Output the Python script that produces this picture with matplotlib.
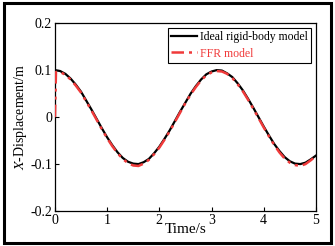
import matplotlib
matplotlib.use("Agg")
import matplotlib.pyplot as plt
from matplotlib.patches import Rectangle

plt.rcParams['font.family'] = ['Liberation Serif', 'DejaVu Serif']
plt.rcParams['mathtext.fontset'] = 'stix'

t_rigid = [0.0, 0.1, 0.2, 0.3, 0.4, 0.5, 0.6, 0.7, 0.8, 0.9,
           1.0, 1.1, 1.2, 1.3, 1.4, 1.5, 1.6, 1.7, 1.8, 1.9,
           2.0, 2.1, 2.2, 2.3, 2.4, 2.5, 2.6, 2.7, 2.8, 2.9,
           3.0, 3.1, 3.2, 3.3, 3.4, 3.5, 3.6, 3.7, 3.8, 3.9,
           4.0, 4.1, 4.2, 4.3, 4.4, 4.5, 4.6, 4.7, 4.8, 4.9, 5.0]
x_rigid = [0.100, 0.098, 0.092, 0.082, 0.069, 0.054, 0.035, 0.016, -0.004, -0.024,
           -0.043, -0.060, -0.075, -0.087, -0.095, -0.099, -0.100, -0.096, -0.089, -0.077,
           -0.063, -0.046, -0.028, -0.008, 0.012, 0.031, 0.050, 0.066, 0.080, 0.091,
           0.097, 0.100, 0.099, 0.093, 0.085, 0.072, 0.057, 0.039, 0.020, 0.000,
           -0.020, -0.039, -0.057, -0.072, -0.085, -0.094, -0.099, -0.100, -0.097, -0.090, -0.082]

t_ffr = [0.0, 0.02, 0.1, 0.2, 0.3, 0.4, 0.5, 0.6, 0.7, 0.8, 0.9,
         1.0, 1.1, 1.2, 1.3, 1.4, 1.5, 1.6, 1.7, 1.8, 1.9,
         2.0, 2.1, 2.2, 2.3, 2.4, 2.5, 2.6, 2.7, 2.8, 2.9,
         3.0, 3.1, 3.2, 3.3, 3.4, 3.5, 3.6, 3.7, 3.8, 3.9,
         4.0, 4.1, 4.2, 4.3, 4.4, 4.5, 4.6, 4.7, 4.8, 4.9, 5.0]
x_ffr = [0.000, 0.096, 0.096, 0.090, 0.080, 0.067, 0.052, 0.033, 0.014, -0.006, -0.026,
         -0.045, -0.062, -0.077, -0.089, -0.098, -0.103, -0.104, -0.099, -0.091, -0.079,
         -0.065, -0.048, -0.030, -0.010, 0.010, 0.030, 0.048, 0.064, 0.078, 0.089,
         0.095, 0.098, 0.097, 0.092, 0.083, 0.070, 0.055, 0.037, 0.018, -0.002,
         -0.022, -0.041, -0.059, -0.075, -0.088, -0.097, -0.102, -0.104, -0.100, -0.092, -0.083]

xticks = [0, 1, 2, 3, 4, 5]
yticks = [-0.2, -0.1, 0, 0.1, 0.2]
ytick_labels = ['-0.2', '-0.1', '0', '0.1', '0.2']

fig = plt.figure(figsize=(3.35, 2.46), dpi=100)
ax = fig.add_axes([0.164, 0.142, 0.779, 0.764])

ax.plot(t_rigid, x_rigid, color='black', lw=1.6, label='Ideal rigid-body model', zorder=2)
ax.plot(t_ffr, x_ffr, color='#f03a3a', lw=1.8, dashes=(5, 2, 1.2, 2, 1.2, 2),
        label='FFR model', zorder=3)

ax.set_xlim(0, 5)
ax.set_ylim(-0.2, 0.2)
ax.set_xticks(xticks)
ax.set_yticks(yticks)
ax.set_yticklabels(ytick_labels)
ax.tick_params(direction='in', length=3, width=0.8, labelsize=10, pad=2)
for s in ax.spines.values():
    s.set_linewidth(0.9)

ax.set_xlabel('Time/s', fontsize=11, labelpad=-2.5)
ax.set_ylabel('$X$-Displacement/m', fontsize=10, labelpad=1)

leg = ax.legend(loc='upper right', fontsize=8.5, frameon=True, fancybox=False,
                edgecolor='black', framealpha=1, borderpad=0.3, labelspacing=0.35,
                handlelength=2.2, handletextpad=0.2, borderaxespad=0.4)
leg.get_frame().set_linewidth(0.8)
leg.get_texts()[1].set_color('#f03a3a')

fig.patches.append(Rectangle((0.012, 0.012), 0.976, 0.976, transform=fig.transFigure,
                             fill=False, edgecolor='black', linewidth=2.2))

fig.savefig('out.png', dpi=100)
